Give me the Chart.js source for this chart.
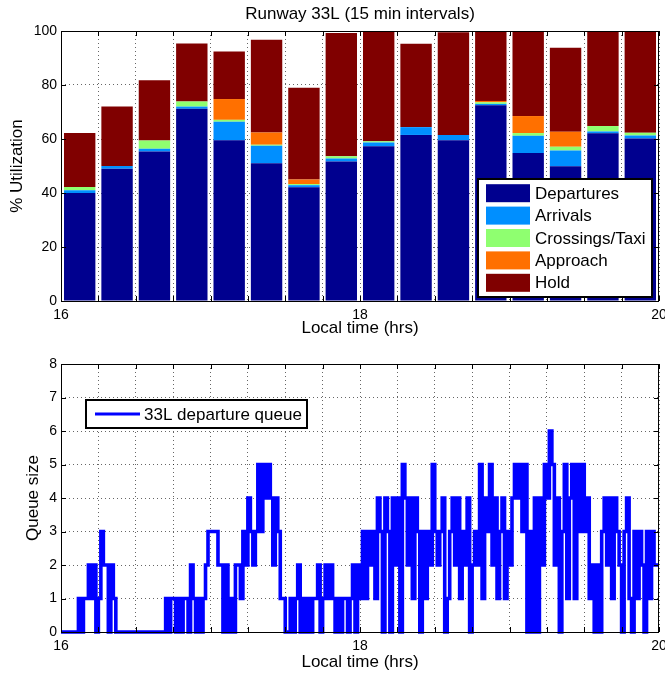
<!DOCTYPE html>
<html><head><meta charset="utf-8">
<script src="https://cdn.jsdelivr.net/npm/chart.js@4.4.1/dist/chart.umd.min.js"></script>
<style>
html,body{margin:0;padding:0;background:#fff;width:665px;height:675px;overflow:hidden}
canvas{position:absolute;left:0}
#c1{top:0}
#c2{top:330px}
</style></head><body>
<canvas id="c1" width="665" height="340"></canvas>
<canvas id="c2" width="665" height="345"></canvas>
<script>
// ---------- data ----------
const barCenters = [16.125,16.375,16.625,16.875,17.125,17.375,17.625,17.875,18.125,18.375,18.625,18.875,19.125,19.375,19.625,19.875];
const departures = [40,49,55.4,71.2,59.5,51,42.1,51.7,57.3,61.5,59.5,72.5,54.8,49.9,62.1,60.2];
const arrivals   = [1,1,1,0.8,6.9,6.5,0.8,1.1,1.4,2.9,2,0.5,6.4,5.8,0.7,1.1];
const crossings  = [1.2,0,3,1.9,0.7,0.4,0.4,0.8,0.5,0,0,0.6,1,1.4,2,1];
const approach   = [0,0,0,0,7.7,4.5,1.7,0,0,0,0,0.5,6.3,5.6,0,0];
const hold       = [20,22,22.4,21.5,17.6,34.4,34,45.7,40.8,30.9,38,25.9,31.5,31.1,35.2,37.7];
const xTickLabels = [16,18,20];
// departure queue, one value per minute starting 16:00
const queueValues = [
0,0,0,0,0,0,0,0,
1,0,1,1,2,1,2,0,1,3,2,2,0,2,1,
0,0,0,0,0,0,0,0,0,0,0,0,0,0,0,0,0,0,0,0,
1,0,1,1,0,1,0,1,1,0,
2,1,0,1,0,1,2,3,3,3,3,2,
2,0,2,0,1,0,2,2,1,
3,2,4,3,2,3,
5,3,5,4,5,4,2,4,3,1,
1,0,0,1,0,
1,2,0,1,0,1,0,1,1,
2,0,1,2,1,2,
1,0,1,0,1,1,0,1,2,0,
2,1,3,1,3,2,3,1,
4,3,0,4,3,0,4,2,4,0,
5,4,2,4,1,4,3,
0,3,1,3,2,5,3,
2,3,4,0,1,3,4,2,
4,1,3,2,4,0,2,3,2,
5,1,4,3,5,
2,4,1,3,4,1,3,2,
4,5,4,5,3,5,
0,3,0,4,0,4,2,
5,4,6,5,2,4,0,3,
5,1,4,5,1,5,3,5,
3,4,1,2,0,2,0,
3,4,2,4,1,4,3,2,0,3,
4,1,0,
3,1,3,2,0,3,1,3,2
];

// ---------- styling ----------
const FONT = "'Liberation Sans', Arial, Helvetica, sans-serif";
Chart.defaults.font.family = FONT;
Chart.defaults.color = '#000';
const GRID = 'rgba(0,0,0,0.6)';

const matlabAxes = {
  id: 'matlabAxes',
  afterDraw(chart) {
    const {ctx, chartArea: a, scales} = chart;
    ctx.save();
    ctx.strokeStyle = '#000';
    ctx.lineWidth = 1;
    ctx.setLineDash([]);
    ctx.beginPath();
    scales.x.ticks.forEach(t => {
      const px = Math.round(scales.x.getPixelForValue(t.value)) + 0.5;
      ctx.moveTo(px, a.bottom); ctx.lineTo(px, a.bottom - 5);
      ctx.moveTo(px, a.top); ctx.lineTo(px, a.top + 5);
    });
    scales.y.ticks.forEach(t => {
      const py = Math.round(scales.y.getPixelForValue(t.value)) + 0.5;
      ctx.moveTo(a.left, py); ctx.lineTo(a.left + 5, py);
      ctx.moveTo(a.right, py); ctx.lineTo(a.right - 5, py);
    });
    ctx.stroke();
    ctx.strokeRect(Math.round(a.left) + 0.5, Math.round(a.top) + 0.5,
                   Math.round(a.right - a.left) - 1, Math.round(a.bottom - a.top));
    ctx.restore();
  }
};

const boxLegend = {
  id: 'boxLegend',
  afterDraw(chart, args, o) {
    if (!o || !o.width) return;
    const {ctx, chartArea: a} = chart;
    const ds = chart.data.datasets;
    ctx.save();
    const left = o.right != null ? a.right - o.right - o.width : a.left + o.left;
    const top = o.bottom != null ? a.bottom - o.bottom - o.height : a.top + o.top;
    ctx.fillStyle = '#fff';
    ctx.fillRect(left, top, o.width, o.height);
    ctx.strokeStyle = '#000';
    ctx.lineWidth = 2;
    ctx.strokeRect(left, top, o.width, o.height);
    ctx.font = '17px ' + FONT;
    ctx.textBaseline = 'middle';
    ds.forEach((d, i) => {
      const cy = top + o.padTop + i * o.rowH + o.rowH / 2;
      if (o.kind === 'bar') {
        ctx.fillStyle = d.backgroundColor;
        ctx.fillRect(left + o.swX, cy - o.swH / 2, o.swW, o.swH);
      } else {
        ctx.strokeStyle = d.borderColor;
        ctx.lineWidth = 3;
        ctx.beginPath();
        ctx.moveTo(left + o.swX, cy); ctx.lineTo(left + o.swX + o.swW, cy);
        ctx.stroke();
      }
      ctx.fillStyle = '#000';
      ctx.fillText(d.label, left + o.textX, cy + 1);
    });
    ctx.restore();
  }
};

function xAxis(extra) {
  return Object.assign({
    type: 'linear', min: 16, max: 20, offset: false,
    ticks: {
      stepSize: 0.25, autoSkip: false, maxRotation: 0, padding: 6,
      font: {size: 14},
      callback: v => xTickLabels.includes(v) ? String(v) : ''
    },
    grid: {color: GRID, drawTicks: false, offset: false},
    border: {display: false, dash: [1, 3]},
    title: {display: true, text: 'Local time (hrs)', font: {size: 17}, padding: {top: 0, bottom: 1.8}},
    afterFit(s) { s.height = 39; s.paddingLeft = 0; s.paddingRight = 0; }
  }, extra || {});
}

// ---------- top chart ----------
const colors = ['#00008F', '#008FFF', '#8FFF70', '#FF7000', '#800000'];
const names = ['Departures', 'Arrivals', 'Crossings/Taxi', 'Approach', 'Hold'];
const series = [departures, arrivals, crossings, approach, hold];

new Chart(document.getElementById('c1'), {
  type: 'bar',
  data: {
    labels: barCenters,
    datasets: series.map((s, i) => ({
      label: names[i], data: s, backgroundColor: colors[i], borderWidth: 0,
      barPercentage: 0.84, categoryPercentage: 1
    }))
  },
  options: {
    responsive: false, animation: false,
    layout: {padding: {left: 0, right: 6, top: 0, bottom: 0}},
    scales: {
      x: xAxis({stacked: true}),
      y: {
        stacked: true, min: 0, max: 100,
        ticks: {stepSize: 20, font: {size: 14}, padding: 4},
        grid: {color: GRID, drawTicks: false},
        border: {display: false, dash: [1, 3]},
        title: {display: true, text: '% Utilization', font: {size: 17}, padding: {top: 6.8, bottom: 0}},
        afterFit(s) { s.width = 61; s.paddingTop = 0; s.paddingBottom = 0; }
      }
    },
    plugins: {
      legend: {display: false},
      tooltip: {enabled: false},
      title: {display: true, fullSize: false, text: 'Runway 33L (15 min intervals)',
              font: {size: 17, weight: 'normal'}, color: '#000', padding: {top: 3.8, bottom: 6.8}},
      boxLegend: {kind: 'bar', right: 7, bottom: 4, width: 174, height: 118,
                  padTop: 3, rowH: 22.4, swX: 8, swW: 44, swH: 18, textX: 57}
    }
  },
  plugins: [matlabAxes, boxLegend]
});

// ---------- bottom chart ----------
const queuePoints = queueValues.map((v, i) => ({x: 16 + i / 60, y: v}));
queuePoints.push({x: 20, y: queueValues[queueValues.length - 1]});

new Chart(document.getElementById('c2'), {
  type: 'line',
  data: {
    datasets: [{
      label: '33L departure queue', data: queuePoints, stepped: 'after',
      borderColor: '#0000FF', borderWidth: 3.6, pointRadius: 0, fill: false, clip: 3
    }]
  },
  options: {
    responsive: false, animation: false,
    layout: {padding: {left: 0, right: 6, top: 34, bottom: 0}},
    scales: {
      x: xAxis({title: {display: true, text: 'Local time (hrs)', font: {size: 17}, padding: {top: 0, bottom: 2.8}},
                afterFit(s) { s.height = 43; s.paddingLeft = 0; s.paddingRight = 0; }}),
      y: {
        min: 0, max: 8,
        ticks: {stepSize: 1, font: {size: 14}, padding: 4},
        grid: {color: GRID, drawTicks: false},
        border: {display: false, dash: [1, 3]},
        title: {display: true, text: 'Queue size', font: {size: 17}, padding: {top: 22.8, bottom: 0}},
        afterFit(s) { s.width = 61; s.paddingTop = 0; s.paddingBottom = 0; }
      }
    },
    plugins: {
      legend: {display: false},
      tooltip: {enabled: false},
      boxLegend: {kind: 'line', left: 25, top: 36, width: 221, height: 28,
                  padTop: 0, rowH: 28, swX: 9, swW: 45, textX: 58}
    }
  },
  plugins: [matlabAxes, boxLegend]
});
</script>
</body></html>
